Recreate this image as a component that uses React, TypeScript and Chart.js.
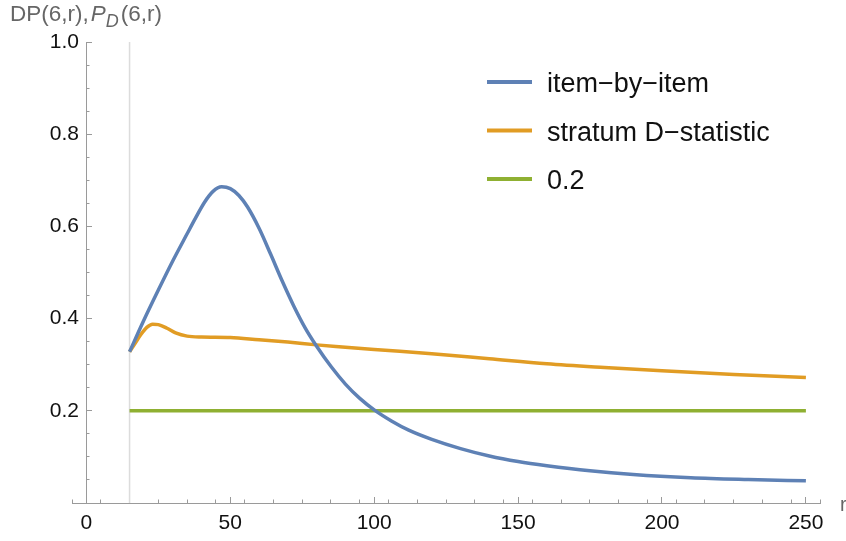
import React, { useEffect, useRef } from 'react';
import { Chart, registerables } from 'chart.js';

Chart.register(...registerables);

// r values and series values
const rItem = [15, 20, 25, 30, 35, 38, 41, 44, 47, 50, 53, 56, 60, 64, 68, 72, 76, 80, 85, 90, 95, 100, 106, 112, 120, 130, 140, 150, 160, 175, 190, 210, 230, 250];
const itemByItem = [0.328, 0.397, 0.462, 0.525, 0.584, 0.619, 0.652, 0.676, 0.686, 0.682, 0.667, 0.642, 0.596, 0.540, 0.482, 0.428, 0.380, 0.340, 0.296, 0.258, 0.227, 0.202, 0.178, 0.158, 0.138, 0.118, 0.102, 0.090, 0.081, 0.070, 0.062, 0.055, 0.051, 0.048];

const rStratum = [15, 17, 19, 21, 23, 25, 28, 31, 35, 40, 50, 60, 70, 80, 90, 100, 120, 140, 160, 180, 200, 225, 250];
const stratumD = [0.328, 0.347, 0.366, 0.381, 0.388, 0.387, 0.379, 0.369, 0.362, 0.360, 0.359, 0.354, 0.349, 0.343, 0.338, 0.333, 0.324, 0.313, 0.302, 0.294, 0.287, 0.279, 0.272];

const rRef = [15, 250];
const refLevel = [0.2, 0.2];

const rMarker = [15, 15];
const markerLevel = [0, 1];

const seriesLabels = ['item\u2212by\u2212item', 'stratum D\u2212statistic', '0.2'];
const seriesColors = ['#5E81B5', '#E19C24', '#8FB032'];

const xTickStep = 50;
const xMinorStep = 10;
const yTickStep = 0.2;
const yMinorStep = 0.05;

const toPoints = (xs: number[], ys: number[]) => xs.map((x, i) => ({ x, y: ys[i] }));

const AXIS = '#9a9a9a';
const FONT = "'Liberation Sans', Arial, sans-serif";

const textPlugin = {
  id: 'mmaText',
  afterDraw(chart: any) {
    const ctx = chart.ctx as CanvasRenderingContext2D;
    ctx.save();
    // y axis title: DP(6,r),P_D(6,r)
    ctx.fillStyle = '#666666';
    ctx.textBaseline = 'alphabetic';
    ctx.textAlign = 'left';
    let x = 10;
    const base = 21;
    ctx.font = `22.5px ${FONT}`;
    const t1 = 'DP(6,r),';
    ctx.fillText(t1, x, base);
    x += ctx.measureText(t1).width + 2;
    ctx.font = `italic 22.5px ${FONT}`;
    ctx.fillText('P', x, base);
    x += ctx.measureText('P').width;
    ctx.font = `italic 18px ${FONT}`;
    ctx.fillText('D', x, base + 6);
    x += ctx.measureText('D').width + 2;
    ctx.font = `22.5px ${FONT}`;
    ctx.fillText('(6,r)', x, base);

    // x axis label "r"
    ctx.font = `20px ${FONT}`;
    ctx.fillText('r', chart.chartArea.right + 20, 511);

    // legend
    const rows = [82, 130.5, 179];
    ctx.font = `27px ${FONT}`;
    for (let i = 0; i < 3; i++) {
      const ds = chart.data.datasets[i];
      ctx.strokeStyle = ds.borderColor;
      ctx.lineWidth = 4;
      ctx.beginPath();
      ctx.moveTo(487, rows[i]);
      ctx.lineTo(532, rows[i]);
      ctx.stroke();
      ctx.fillStyle = '#111111';
      ctx.fillText(ds.label, 547, rows[i] + 10);
    }
    ctx.restore();
  },
};

export default function App() {
  const ref = useRef<HTMLCanvasElement | null>(null);

  useEffect(() => {
    if (!ref.current) return;
    const lineDs = (label: string, data: any[], color: string, width: number) => ({
      label,
      data,
      borderColor: color,
      backgroundColor: color,
      borderWidth: width,
      pointRadius: 0,
      fill: false,
      cubicInterpolationMode: 'monotone' as const,
      tension: 0.4,
    });
    const chart = new Chart(ref.current, {
      type: 'line',
      data: {
        datasets: [
          lineDs(seriesLabels[0], toPoints(rItem, itemByItem), seriesColors[0], 3.5),
          lineDs(seriesLabels[1], toPoints(rStratum, stratumD), seriesColors[1], 3.5),
          lineDs(seriesLabels[2], toPoints(rRef, refLevel), seriesColors[2], 3.5),
          { ...lineDs('marker', toPoints(rMarker, markerLevel), '#dcdcdc', 1.5), tension: 0, cubicInterpolationMode: 'default' as const },
        ],
      },
      options: {
        responsive: false,
        maintainAspectRatio: false,
        devicePixelRatio: 1,
        animation: false,
        layout: { padding: { top: 42, right: 26, bottom: 0, left: 0 } },
        plugins: { legend: { display: false }, tooltip: { enabled: false } },
        scales: {
          x: {
            type: 'linear',
            position: 'bottom',
            min: -5,
            max: 254.9,
            afterFit: (s: any) => { s.height = 38; },
            ticks: {
              stepSize: xTickStep,
              includeBounds: false,
              font: { family: FONT, size: 21 },
              color: '#111111',
              padding: 14,
              maxRotation: 0,
              autoSkip: false,
              callback: (v: any) => String(v),
            },
            grid: { display: true, drawOnChartArea: false, drawTicks: true, tickLength: -6, color: AXIS },
            border: { display: true, color: AXIS, width: 1 },
          },
          x3: {
            axis: 'x',
            type: 'linear',
            position: { y: 0 },
            min: -5,
            max: 254.9,
            ticks: { display: false, stepSize: xMinorStep, includeBounds: false },
            grid: { display: true, drawOnChartArea: false, drawTicks: true, tickLength: -3.5, color: AXIS },
            border: { display: false },
          },
          y: {
            type: 'linear',
            position: 'left',
            min: 0,
            max: 1,
            afterFit: (s: any) => { s.width = 72; },
            ticks: {
              stepSize: yTickStep,
              font: { family: FONT, size: 21 },
              color: '#111111',
              mirror: true,
              crossAlign: 'far',
              padding: -22.2,
              autoSkip: false,
              callback: (v: any) => (v === 0 ? '' : Number(v).toFixed(1)),
            },
            grid: { display: false, drawTicks: false },
            border: { display: false },
          },
          y2: {
            axis: 'y',
            type: 'linear',
            position: { x: 0 },
            min: 0,
            max: 1,
            ticks: { display: false, stepSize: yTickStep },
            grid: { display: true, drawOnChartArea: false, drawTicks: true, tickLength: -6, color: AXIS },
            border: { display: true, color: AXIS, width: 1 },
          },
          y3: {
            axis: 'y',
            type: 'linear',
            position: { x: 0 },
            min: 0,
            max: 1,
            ticks: { display: false, stepSize: yMinorStep },
            grid: { display: true, drawOnChartArea: false, drawTicks: true, tickLength: -3.5, color: AXIS },
            border: { display: false },
          },
        },
      } as any,
      plugins: [textPlugin],
    });
    return () => chart.destroy();
  }, []);

  return (
    <div style={{ position: 'absolute', left: 0, top: 0, width: 846, height: 541, background: '#fff' }}>
      <canvas ref={ref} width={846} height={541} style={{ display: 'block' }} />
    </div>
  );
}
